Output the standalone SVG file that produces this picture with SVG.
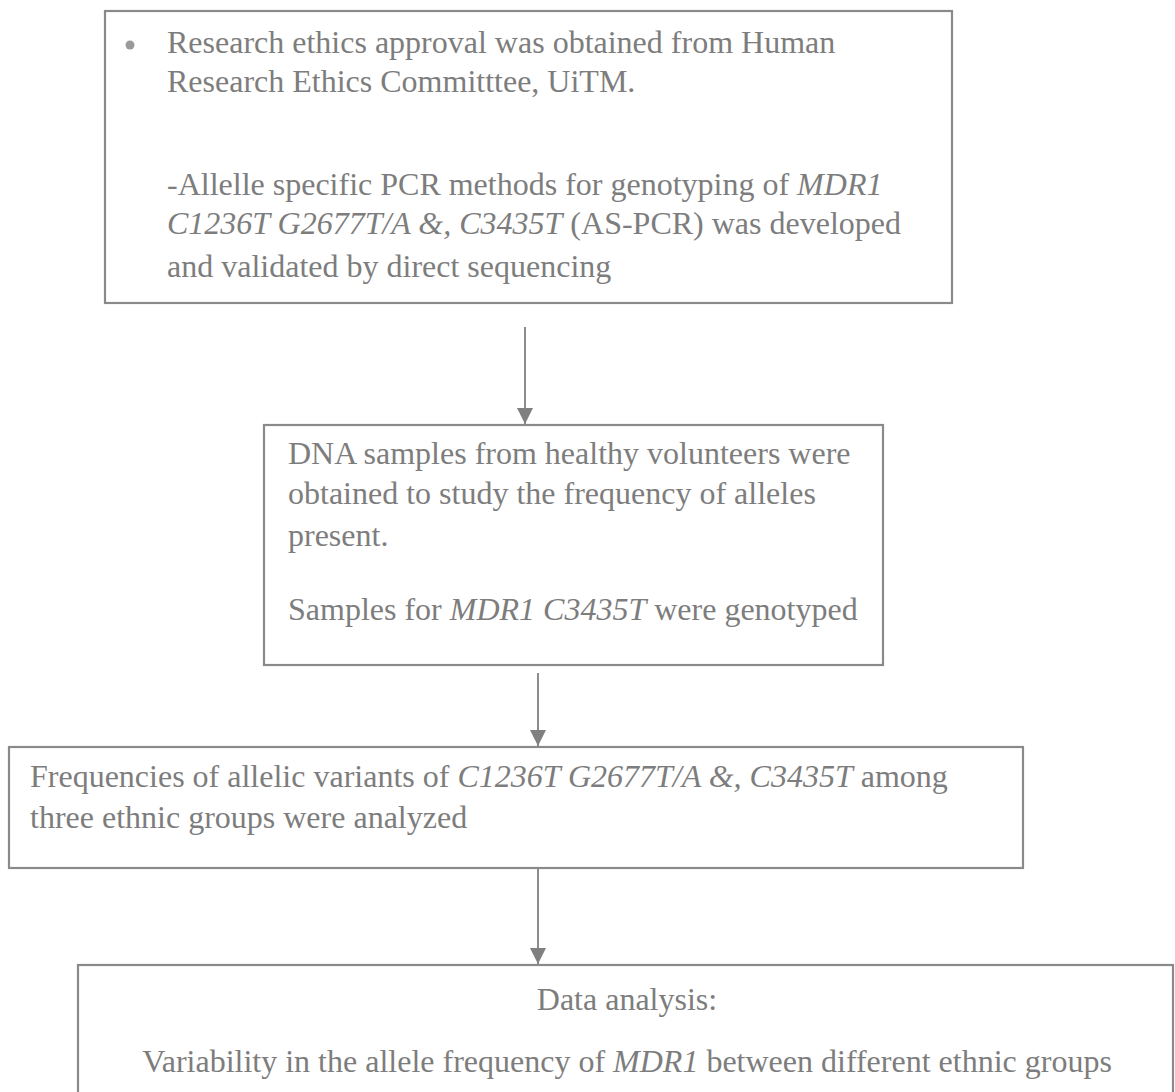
<svg xmlns="http://www.w3.org/2000/svg" width="1175" height="1092" viewBox="0 0 1175 1092">
<defs>
<style>
.box{fill:#fff;stroke:#8a8a8a;stroke-width:2.2}
.t{font-family:"Liberation Serif","Times New Roman",serif;font-size:32px;fill:#7d7d7d}
.i{font-style:italic}
.c{fill:none;stroke:#808080;stroke-width:1.8}
</style>
<marker id="ah" viewBox="0 0 10 10" refX="10" refY="5" markerWidth="17" markerHeight="16" markerUnits="userSpaceOnUse" orient="auto">
<path d="M0,0 L10,5 L0,10 z" fill="#808080"/>
</marker>
</defs>
<rect width="1175" height="1092" fill="#fff"/>
<g id="node1">
<rect class="box" x="105" y="11" width="847" height="292"/>
<circle cx="130" cy="45" r="4.5" fill="#9a9a9a"/>
<text class="t" x="167" y="53">Research ethics approval was obtained from Human</text>
<text class="t" x="167" y="92">Research Ethics Committtee, UiTM.</text>
<text class="t" x="167" y="195">-Allelle specific PCR methods for genotyping of <tspan class="i">MDR1</tspan></text>
<text class="t" x="167" y="234"><tspan class="i">C1236T G2677T/A &amp;, C3435T</tspan> (AS-PCR) was developed</text>
<text class="t" x="167" y="277">and validated by direct sequencing</text>
</g>
<g id="node2">
<rect class="box" x="264" y="425" width="619" height="240"/>
<text class="t" x="288" y="464">DNA samples from healthy volunteers were</text>
<text class="t" x="288" y="504">obtained to study the frequency of alleles</text>
<text class="t" x="288" y="546">present.</text>
<text class="t" x="288" y="620">Samples for <tspan class="i">MDR1 C3435T</tspan> were genotyped</text>
</g>
<g id="node3">
<rect class="box" x="9" y="747" width="1014" height="121"/>
<text class="t" x="30" y="787">Frequencies of allelic variants of <tspan class="i">C1236T G2677T/A &amp;, C3435T</tspan> among</text>
<text class="t" x="30" y="828">three ethnic groups were analyzed</text>
</g>
<g id="node4">
<rect class="box" x="78" y="965" width="1095" height="140"/>
<text class="t" x="627" y="1010" text-anchor="middle">Data analysis:</text>
<text class="t" x="627" y="1072" text-anchor="middle">Variability in the allele frequency of <tspan class="i">MDR1</tspan> between different ethnic groups</text>
</g>
<g id="connectors">
<line class="c" x1="525" y1="327" x2="525" y2="424" marker-end="url(#ah)"/>
<line class="c" x1="538" y1="673" x2="538" y2="746" marker-end="url(#ah)"/>
<line class="c" x1="538" y1="869" x2="538" y2="964" marker-end="url(#ah)"/>
</g>
</svg>
